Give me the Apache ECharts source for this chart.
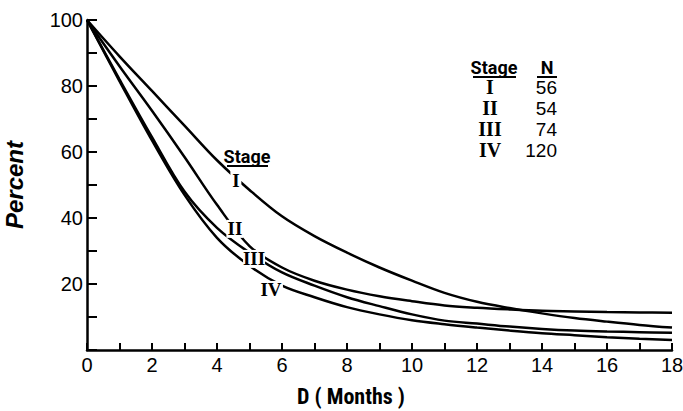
<!DOCTYPE html>
<html>
<head>
<meta charset="utf-8">
<script src="https://cdn.jsdelivr.net/npm/echarts@6/dist/echarts.min.js"></script>
<style>
html,body{margin:0;padding:0;background:#fff;}
#main{width:683px;height:411px;}
</style>
</head>
<body>
<div id="main"></div>
<script>
// 数据
var months = [0,1,2,3,4,5,6,7,8,9,10,11,12,13,14,15,16,17,18];
var stageI   = [100,89,78.5,68,57.5,48.5,40.5,34.5,29.5,25,21,17.3,14.6,12.7,11.1,9.7,8.6,7.6,6.8];
var stageII  = [100,86,72.5,58.5,44,31.5,25,21,18.3,16.3,14.8,13.5,12.8,12.3,11.9,11.7,11.5,11.4,11.3];
var stageIII = [100,82,64.5,48,37,29.5,23.5,19.5,16,13.3,10.8,8.9,8,7.1,6.4,5.9,5.6,5.4,5.2];
var stageIV  = [100,81.5,63.5,47,34,25.5,19.5,16,13,10.8,9,7.8,6.8,5.9,5.1,4.5,3.9,3.4,3.0];
var stageNames = ['I','II','III','IV'];
var stageN = [56,54,74,120];
var yTicks = [0,20,40,60,80,100];

var myChart = echarts.init(document.getElementById('main'), null, {renderer:'svg'});
var narrow = '"Liberation Sans Narrow","Roboto Condensed","Liberation Sans",sans-serif';
var sans = '"Liberation Sans",Arial,sans-serif';
var roman = '"Liberation Serif","DejaVu Serif",serif';

function pairs(arr){
    return months.map(function(m,i){ return [m, arr[i]]; });
}

// 曲线上的罗马数字标签（白底遮住线条）
var labelPos = [[4.58,51.5],[4.55,36.7],[5.14,27.6],[5.66,18.2]];
var labelSize = [[11,18],[17,18],[22,18],[24,18]];
var curves = [stageI, stageII, stageIII, stageIV];

var series = curves.map(function(c, k){
    return {
        name: stageNames[k],
        type: 'line',
        data: pairs(c),
        smooth: 0.35,
        showSymbol: false,
        lineStyle: {color:'#000', width:2.5},
        markPoint: {
            symbol: 'rect',
            symbolSize: labelSize[k],
            itemStyle: {color:'#fff'},
            label: {show:true, position:'inside', formatter: stageNames[k],
                color:'#000', fontFamily: roman, fontWeight:'bold', fontSize:19},
            data: [{coord: labelPos[k]}]
        }
    };
});

// 右上角表格
var graphic = [
    {type:'text', x:494, y:67, style:{text:'Stage', fontFamily:'Roboto,sans-serif', fontWeight:'bold', fontSize:18, fill:'#000', align:'center', verticalAlign:'middle'}},
    {type:'line', shape:{x1:473,y1:77,x2:516,y2:77}, style:{stroke:'#000', lineWidth:2}},
    {type:'text', x:547, y:67, style:{text:'N', fontFamily:'Roboto,sans-serif', fontWeight:'bold', fontSize:18, fill:'#000', align:'center', verticalAlign:'middle'}},
    {type:'line', shape:{x1:537,y1:77,x2:557,y2:77}, style:{stroke:'#000', lineWidth:2}},
    // 曲线旁 Stage
    {type:'text', x:247, y:156, style:{text:'Stage', fontFamily:'Roboto,sans-serif', fontWeight:'bold', fontSize:18, fill:'#000', align:'center', verticalAlign:'middle'}},
    {type:'line', shape:{x1:227,y1:166,x2:268,y2:166}, style:{stroke:'#000', lineWidth:2}},
    // x 轴标题
    {type:'text', x:351, y:396, style:{text:'D ( Months )', fontFamily:narrow, fontWeight:'bold', fontSize:22, fill:'#000', align:'center', verticalAlign:'middle'}}
];
for (var r = 0; r < stageNames.length; r++) {
    graphic.push({type:'text', x:490, y:87 + r*21, style:{text:stageNames[r], fontFamily:roman, fontWeight:'bold', fontSize:20, fill:'#000', align:'center', verticalAlign:'middle'}});
    graphic.push({type:'text', x:557, y:87 + r*21, style:{text:String(stageN[r]), fontFamily:sans, fontSize:19, fill:'#000', align:'right', verticalAlign:'middle'}});
}

option = {
    animation: false,
    backgroundColor: '#fff',
    grid: {left:87, right:11, top:20, bottom:61, outerBoundsMode:'none', containLabel:false},
    xAxis: {
        type: 'value',
        min: 0, max: 18, interval: 2,
        axisLine: {show:true, onZero:false, lineStyle:{color:'#000', width:2.5}},
        axisTick: {show:true, inside:true, length:7, lineStyle:{color:'#000', width:2}},
        minorTick: {show:true, splitNumber:2, length:7, lineStyle:{color:'#000', width:2}},
        axisLabel: {color:'#000', fontFamily:sans, fontSize:20, margin:5},
        splitLine: {show:false}
    },
    yAxis: {
        type: 'value',
        min: 0, max: 100, interval: 20,
        name: 'Percent',
        nameLocation: 'middle',
        nameRotate: 90,
        nameGap: 61,
        nameTextStyle: {color:'#000', fontFamily:sans, fontWeight:'bold', fontStyle:'italic', fontSize:24},
        axisLine: {show:true, lineStyle:{color:'#000', width:2.5}},
        axisTick: {show:true, inside:true, length:10, lineStyle:{color:'#000', width:2}},
        minorTick: {show:true, splitNumber:2, length:10, lineStyle:{color:'#000', width:2}},
        axisLabel: {color:'#000', fontFamily:sans, fontSize:20, margin:4,
            showMinLabel:false,
            formatter: function(v){ return yTicks.indexOf(v) > 0 ? String(v) : ''; }},
        splitLine: {show:false}
    },
    graphic: graphic,
    series: series
};

if (option && typeof option === "object") {
    myChart.setOption(option, true);
}
</script>
</body>
</html>
